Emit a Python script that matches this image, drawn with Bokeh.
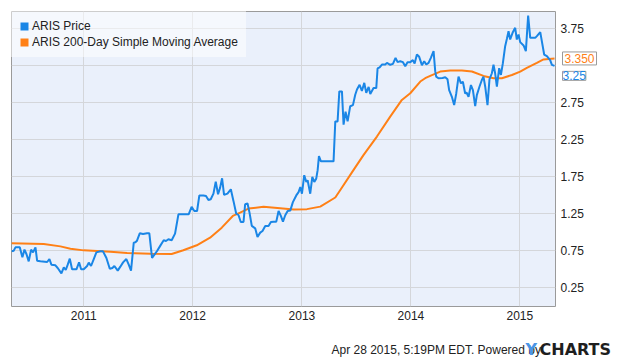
from datetime import datetime
from bokeh.plotting import figure
from bokeh.layouts import column
from bokeh.models import (Range1d, FixedTicker, DatetimeTickFormatter, PrintfTickFormatter,
                          Legend, LegendItem, Label)
from bokeh.core.properties import value
from bokeh.embed import file_html
from bokeh.resources import INLINE

# ---------------- data (decimal years) ----------------
price_years = [
    2010.336, 2010.358, 2010.373, 2010.413, 2010.437, 2010.456, 2010.474, 2010.495, 2010.517, 2010.535,
    2010.557, 2010.572, 2010.602, 2010.664, 2010.685, 2010.703, 2010.740, 2010.761, 2010.795, 2010.817,
    2010.835, 2010.853, 2010.872, 2010.893, 2010.933, 2010.957, 2010.976, 2011.000, 2011.031, 2011.046,
    2011.067, 2011.092, 2011.116, 2011.153, 2011.177, 2011.208, 2011.239, 2011.263, 2011.281, 2011.312,
    2011.336, 2011.361, 2011.391, 2011.413, 2011.434, 2011.459, 2011.474, 2011.489, 2011.514, 2011.544,
    2011.581, 2011.602, 2011.627, 2011.642, 2011.673, 2011.703, 2011.734, 2011.755, 2011.777, 2011.807,
    2011.838, 2011.869, 2011.963, 2011.990, 2012.015, 2012.040, 2012.061, 2012.098, 2012.122, 2012.144,
    2012.165, 2012.190, 2012.211, 2012.232, 2012.251, 2012.269, 2012.287, 2012.318, 2012.349, 2012.373,
    2012.398, 2012.419, 2012.440, 2012.465, 2012.480, 2012.502, 2012.520, 2012.541, 2012.572, 2012.593,
    2012.618, 2012.639, 2012.664, 2012.694, 2012.716, 2012.740, 2012.765, 2012.786, 2012.807, 2012.826,
    2012.847, 2012.869, 2012.893, 2012.917, 2012.948, 2012.969, 2012.985, 2013.000, 2013.021, 2013.040,
    2013.052, 2013.076, 2013.095, 2013.113, 2013.131, 2013.144, 2013.156, 2013.174, 2013.290, 2013.306,
    2013.327, 2013.343, 2013.367, 2013.382, 2013.400, 2013.419, 2013.443, 2013.468, 2013.489, 2013.505,
    2013.529, 2013.550, 2013.572, 2013.590, 2013.612, 2013.627, 2013.657, 2013.682, 2013.694, 2013.713,
    2013.734, 2013.765, 2013.780, 2013.810, 2013.835, 2013.859, 2013.878, 2013.902, 2013.927, 2013.948,
    2013.969, 2013.994, 2014.018, 2014.034, 2014.055, 2014.076, 2014.101, 2014.122, 2014.141, 2014.162,
    2014.183, 2014.208, 2014.223, 2014.232, 2014.253, 2014.290, 2014.315, 2014.336, 2014.351, 2014.376,
    2014.397, 2014.416, 2014.437, 2014.459, 2014.477, 2014.498, 2014.510, 2014.529, 2014.551, 2014.569,
    2014.590, 2014.605, 2014.629, 2014.651, 2014.666, 2014.682, 2014.703, 2014.721, 2014.743, 2014.758,
    2014.773, 2014.789, 2014.810, 2014.826, 2014.844, 2014.865, 2014.881, 2014.896, 2014.911, 2014.933,
    2014.957, 2014.972, 2014.988, 2015.003, 2015.034, 2015.055, 2015.076, 2015.095, 2015.141, 2015.156,
    2015.187, 2015.223, 2015.248, 2015.278, 2015.294, 2015.318,
]
price_values = [
    0.745, 0.754, 0.799, 0.799, 0.664, 0.768, 0.709, 0.610, 0.768, 0.731,
    0.799, 0.619, 0.610, 0.601, 0.641, 0.565, 0.556, 0.520, 0.448, 0.529,
    0.493, 0.565, 0.646, 0.502, 0.502, 0.596, 0.502, 0.502, 0.547, 0.592,
    0.547, 0.641, 0.731, 0.745, 0.745, 0.655, 0.510, 0.520, 0.547, 0.484,
    0.538, 0.596, 0.641, 0.565, 0.484, 0.862, 0.867, 0.889, 0.988, 0.979,
    0.988, 0.988, 0.655, 0.686, 0.750, 0.822, 0.894, 0.885, 0.908, 0.894,
    0.984, 1.245, 1.245, 1.345, 1.290, 1.290, 1.500, 1.500, 1.493, 1.439,
    1.448, 1.525, 1.687, 1.516, 1.606, 1.732, 1.507, 1.525, 1.583, 1.426,
    1.255, 1.236, 1.142, 1.142, 1.381, 1.390, 1.268, 1.088, 1.056, 0.939,
    0.998, 1.020, 1.088, 1.088, 1.142, 1.146, 1.146, 1.290, 1.223, 1.146,
    1.232, 1.290, 1.295, 1.409, 1.500, 1.545, 1.614, 1.523, 1.773, 1.682,
    1.705, 1.523, 1.750, 1.682, 1.727, 1.841, 2.032, 1.960, 1.960, 2.500,
    2.500, 2.905, 2.905, 2.455, 2.630, 2.500, 2.705, 2.720, 2.860, 2.930,
    2.995, 2.910, 3.020, 2.885, 2.966, 2.870, 2.950, 2.950, 3.215, 3.230,
    3.268, 3.268, 3.290, 3.264, 3.277, 3.358, 3.300, 3.313, 3.300, 3.245,
    3.300, 3.300, 3.327, 3.282, 3.403, 3.372, 3.259, 3.313, 3.268, 3.290,
    3.358, 3.448, 3.178, 3.105, 3.082, 3.085, 3.095, 3.068, 2.923, 2.832,
    2.720, 2.877, 3.105, 3.014, 3.036, 2.877, 2.890, 2.832, 2.991, 2.923,
    2.705, 2.855, 2.968, 3.059, 3.105, 2.968, 2.720, 3.068, 3.150, 3.264,
    3.150, 2.968, 3.218, 3.127, 3.286, 3.516, 3.615, 3.718, 3.606, 3.696,
    3.764, 3.606, 3.674, 3.570, 3.525, 3.448, 3.930, 3.628, 3.628, 3.651,
    3.705, 3.403, 3.381, 3.327, 3.264, 3.250,
]
sma_years = [
    2010.336, 2010.633, 2010.786, 2010.878, 2011.000, 2011.245, 2011.398, 2011.612, 2011.807, 2011.914,
    2012.037, 2012.159, 2012.266, 2012.367, 2012.434, 2012.511, 2012.648, 2012.801, 2012.924, 2013.046,
    2013.168, 2013.306, 2013.352, 2013.474, 2013.566, 2013.688, 2013.810, 2013.917, 2013.994, 2014.086,
    2014.131, 2014.177, 2014.269, 2014.361, 2014.468, 2014.560, 2014.666, 2014.758, 2014.835, 2014.927,
    2015.003, 2015.064, 2015.156, 2015.217, 2015.318,
]
sma_values = [
    0.853, 0.845, 0.812, 0.781, 0.758, 0.740, 0.722, 0.714, 0.708, 0.759,
    0.827, 0.930, 1.065, 1.223, 1.268, 1.322, 1.348, 1.327, 1.309, 1.315,
    1.349, 1.472, 1.574, 1.845, 2.047, 2.295, 2.565, 2.790, 2.880, 3.038,
    3.083, 3.115, 3.173, 3.186, 3.186, 3.173, 3.114, 3.082, 3.082, 3.127,
    3.173, 3.223, 3.290, 3.336, 3.350,
]
year_ticks = [2011, 2012, 2013, 2014, 2015]
value_ticks = [0.25, 0.75, 1.25, 1.75, 2.25, 2.75, 3.25, 3.75]
hidden_tick = 3.25          # axis label covered by the value callouts
last_price_label = "3.25"
last_sma_label = "3.350"
legend_labels = ["ARIS Price", "ARIS 200-Day Simple Moving Average"]
footer_text = "Apr 28 2015, 5:19PM EDT.  Powered by"
logo_parts = ["Y", "CHARTS"]

x_start_year, x_end_year = 2010.337, 2015.327
y_start, y_end = 0.0, 3.984

# ---------------- styles / layout ----------------
BLUE = "#1A86E6"
ORANGE = "#FF8016"
BG = "#EAF0FB"
GRID = "#D4D6DA"
TEXT = "#222222"
FONT = "Liberation Sans"
W = 635
H_MAIN = 338
H_FOOT = 362 - H_MAIN
ML, MT, MR, MB = 11, 11, 80, 32

EPOCH = datetime(1970, 1, 1)


def to_ms(yf):
    y = int(yf)
    a, b = datetime(y, 1, 1), datetime(y + 1, 1, 1)
    d = a + (b - a) * (yf - y)
    return (d - EPOCH).total_seconds() * 1000.0


px = [to_ms(v) for v in price_years]
sx = [to_ms(v) for v in sma_years]
x0, x1 = to_ms(x_start_year), to_ms(x_end_year)

p = figure(width=W, height=H_MAIN, x_axis_type="datetime", y_axis_location="right",
           output_backend="svg", toolbar_location=None,
           x_range=Range1d(x0, x1), y_range=Range1d(y_start, y_end),
           min_border_left=ML, min_border_top=MT, min_border_right=MR, min_border_bottom=MB)
p.background_fill_color = BG
p.border_fill_color = "white"
p.outline_line_color = "#9A9A9A"
p.outline_line_width = 1

xt = FixedTicker(ticks=[to_ms(y) for y in year_ticks])
p.xaxis.ticker = xt
p.xgrid.ticker = xt
p.xaxis.formatter = DatetimeTickFormatter(years="%Y", months="%Y", days="%Y", hours="%Y")
yt = FixedTicker(ticks=value_ticks)
p.yaxis.ticker = yt
p.ygrid.ticker = yt
p.yaxis.formatter = PrintfTickFormatter(format="%.2f")
p.yaxis.major_label_overrides = {hidden_tick: ""}

for ax in (p.xaxis, p.yaxis):
    ax.axis_line_color = None
    ax.major_tick_line_color = None
    ax.minor_tick_line_color = None
    ax.major_tick_out = 0
    ax.major_tick_in = 0
    ax.major_label_text_font = FONT
    ax.major_label_text_font_size = "12px"
    ax.major_label_text_color = TEXT
p.xaxis.major_label_standoff = 4
p.yaxis.major_label_standoff = 5

for g in (p.xgrid, p.ygrid):
    g.grid_line_color = GRID
    g.grid_line_width = 1

p.line(sx, sma_values, line_color=ORANGE, line_width=2)
p.line(px, price_values, line_color=BLUE, line_width=2)

# legend squares (area renderers with no visible data; used only for legend glyphs)
nan = float("nan")
sq_blue = p.quad(left=[nan], right=[nan], top=[nan], bottom=[nan], fill_color=BLUE, line_color=None)
sq_orange = p.quad(left=[nan], right=[nan], top=[nan], bottom=[nan], fill_color=ORANGE, line_color=None)
legend = Legend(items=[LegendItem(label=legend_labels[0], renderers=[sq_blue]),
                       LegendItem(label=legend_labels[1], renderers=[sq_orange])],
                location="top_left", margin=0, padding=8, spacing=2,
                glyph_width=10, glyph_height=10, label_standoff=3, label_height=10,
                label_text_font=FONT, label_text_font_size="12px", label_text_color=TEXT,
                background_fill_color="white", background_fill_alpha=0.5,
                border_line_color="white", border_line_alpha=0.0)
p.add_layout(legend)

# value callouts next to the right axis (side-panel annotations are not clipped)
p.add_layout(Label(x=x1, y=sma_values[-1], x_offset=7, y_offset=0, text=last_sma_label,
                   text_baseline="middle", text_align="left", text_color=ORANGE,
                   text_font=FONT, text_font_size="12px", padding=2, level="overlay",
                   background_fill_color="white", border_line_color="#9A9A9A"), "right")
p.add_layout(Label(x=x1, y=price_values[-1], x_offset=7, y_offset=-10, text=last_price_label,
                   text_baseline="middle", text_align="left", text_color=BLUE,
                   text_font=FONT, text_font_size="12px", padding=0, level="overlay",
                   background_fill_color="white", border_line_color="#9A9A9A"), "below")

# footer strip: its frame lines up with the chart frame, so its x range spans the same pixels
f = figure(width=W, height=H_FOOT, output_backend="svg", toolbar_location=None,
           x_range=Range1d(ML, W - MR), y_range=Range1d(0, H_FOOT),
           x_axis_location=None, y_axis_location=None,
           min_border_left=ML, min_border_right=MR, min_border_top=0, min_border_bottom=0)
f.grid.visible = False
f.outline_line_color = None
f.background_fill_color = "white"
f.border_fill_color = "white"
FOOT_Y = H_FOOT - 11
f.text(x=[331], y=[FOOT_Y], text=[footer_text], text_baseline="middle",
       text_font=value(FONT), text_font_size="12px", text_color=TEXT)
f.text(x=[525], y=[FOOT_Y], text=[logo_parts[0]], text_baseline="middle",
       text_font=value("DejaVu Sans"), text_font_style="bold", text_font_size="16px", text_color="#4A95E6")
f.add_layout(Label(x=539, y=FOOT_Y, text=logo_parts[1], text_baseline="middle",
                   text_font="DejaVu Sans", text_font_style="bold", text_font_size="16px",
                   text_color="#1E1E1E"), "right")

layout = column(p, f, spacing=0)
open("out.html", "w").write(file_html(layout, INLINE))
